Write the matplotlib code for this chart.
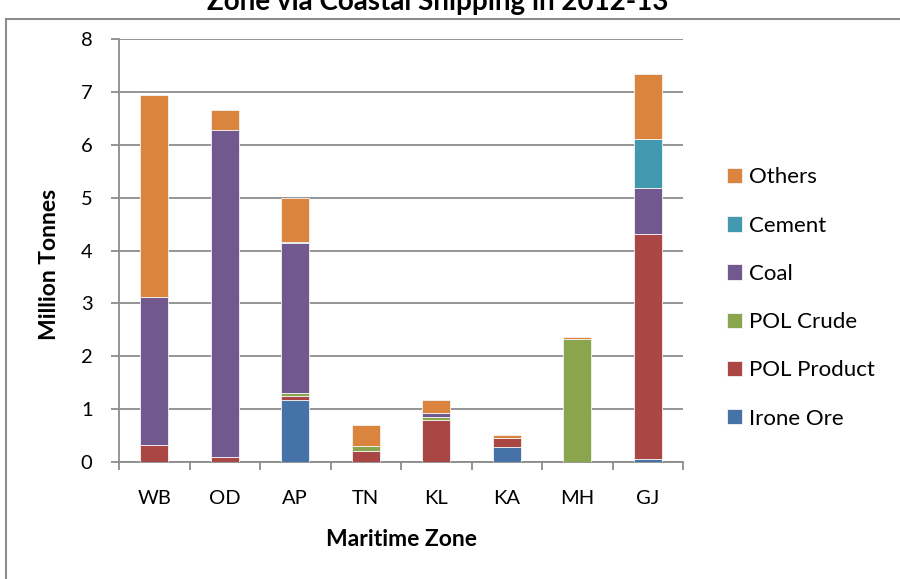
import matplotlib
matplotlib.use('Agg')
import matplotlib.pyplot as plt
import numpy as np

plt.rcParams['font.family'] = ['Lato', 'DejaVu Sans']

# tonnage by maritime zone, million tonnes
zones = ['WB', 'OD', 'AP', 'TN', 'KL', 'KA', 'MH', 'GJ']
irone_ore = [0.00, 0.00, 1.17, 0.00, 0.00, 0.28, 0.00, 0.06]
pol_product = [0.32, 0.09, 0.08, 0.20, 0.80, 0.18, 0.00, 4.26]
pol_crude = [0.00, 0.00, 0.05, 0.10, 0.06, 0.00, 2.33, 0.00]
coal = [2.81, 6.19, 2.84, 0.00, 0.07, 0.00, 0.00, 0.87]
cement = [0.00, 0.00, 0.03, 0.00, 0.00, 0.00, 0.00, 0.91]
others = [3.81, 0.37, 0.82, 0.40, 0.24, 0.06, 0.03, 1.23]

series = [
    ('Irone Ore', irone_ore, '#4572A7'),
    ('POL Product', pol_product, '#AA4643'),
    ('POL Crude', pol_crude, '#89A54E'),
    ('Coal', coal, '#71588F'),
    ('Cement', cement, '#4198AF'),
    ('Others', others, '#DB843D'),
]

W, H = 900, 579
fig = plt.figure(figsize=(9, 5.79), dpi=100)
ax = fig.add_axes([119 / W, 1 - 462 / H, (683 - 119) / W, (462 - 39) / H])

x = np.arange(len(zones))
bottom = np.zeros(len(zones))
for name, vals, col in series:
    vals = np.array(vals)
    ax.bar(x, vals, 0.4, bottom=bottom, color=col, label=name,
           edgecolor='#f4f4f4', linewidth=0.6, zorder=3)
    bottom += vals

grid_c = '#8c8c8c'
ax.set_xlim(-0.5, len(zones) - 0.5)
ax.set_ylim(0, 8)
ax.set_yticks(range(0, 9))
ax.yaxis.grid(True, color=grid_c, linewidth=1.3, zorder=0)
ax.set_axisbelow(True)

ax.set_xticks(x)
ax.set_xticklabels(zones)
ax.set_xticks(np.arange(-0.5, len(zones)), minor=True)
ax.tick_params(axis='x', which='major', length=0, pad=20, labelsize=14.5)
ax.tick_params(axis='x', which='minor', length=6, width=1.3, color=grid_c)
ax.tick_params(axis='y', length=6, width=1.3, color=grid_c, pad=13, labelsize=14.5)

for s in ['top', 'right']:
    ax.spines[s].set_visible(False)
for s in ['left', 'bottom']:
    ax.spines[s].set_color(grid_c)
    ax.spines[s].set_linewidth(1.3)

ax.set_xlabel('Maritime Zone', fontsize=16.5, fontweight='bold', labelpad=16)
ax.set_ylabel('Million Tonnes', fontsize=16.5, fontweight='bold')
ax.yaxis.set_label_coords(-0.105, 0.466)

handles, labels = ax.get_legend_handles_labels()
fig.legend(handles[::-1], labels[::-1], loc='center left',
           bbox_to_anchor=(727 / W, 1 - 298 / H), frameon=False,
           fontsize=16, handlelength=0.68, handleheight=0.68,
           handletextpad=0.3, labelspacing=1.27, borderpad=0,
           borderaxespad=0)

# chart area border and title running off the top edge
fig.add_artist(plt.Line2D([6 / W, 6 / W], [0, 1 - 19 / H],
                          transform=fig.transFigure, color='#8c8c8c', lw=1.5))
fig.add_artist(plt.Line2D([6 / W, 1], [1 - 19 / H, 1 - 19 / H],
                          transform=fig.transFigure, color='#8c8c8c', lw=1.5))
fig.text(438 / W, 1 - 10 / H, 'Zone via Coastal Shipping in 2012-13',
         ha='center', va='baseline', fontsize=20, fontweight='bold')

fig.savefig('out.png', dpi=100, facecolor='white')
